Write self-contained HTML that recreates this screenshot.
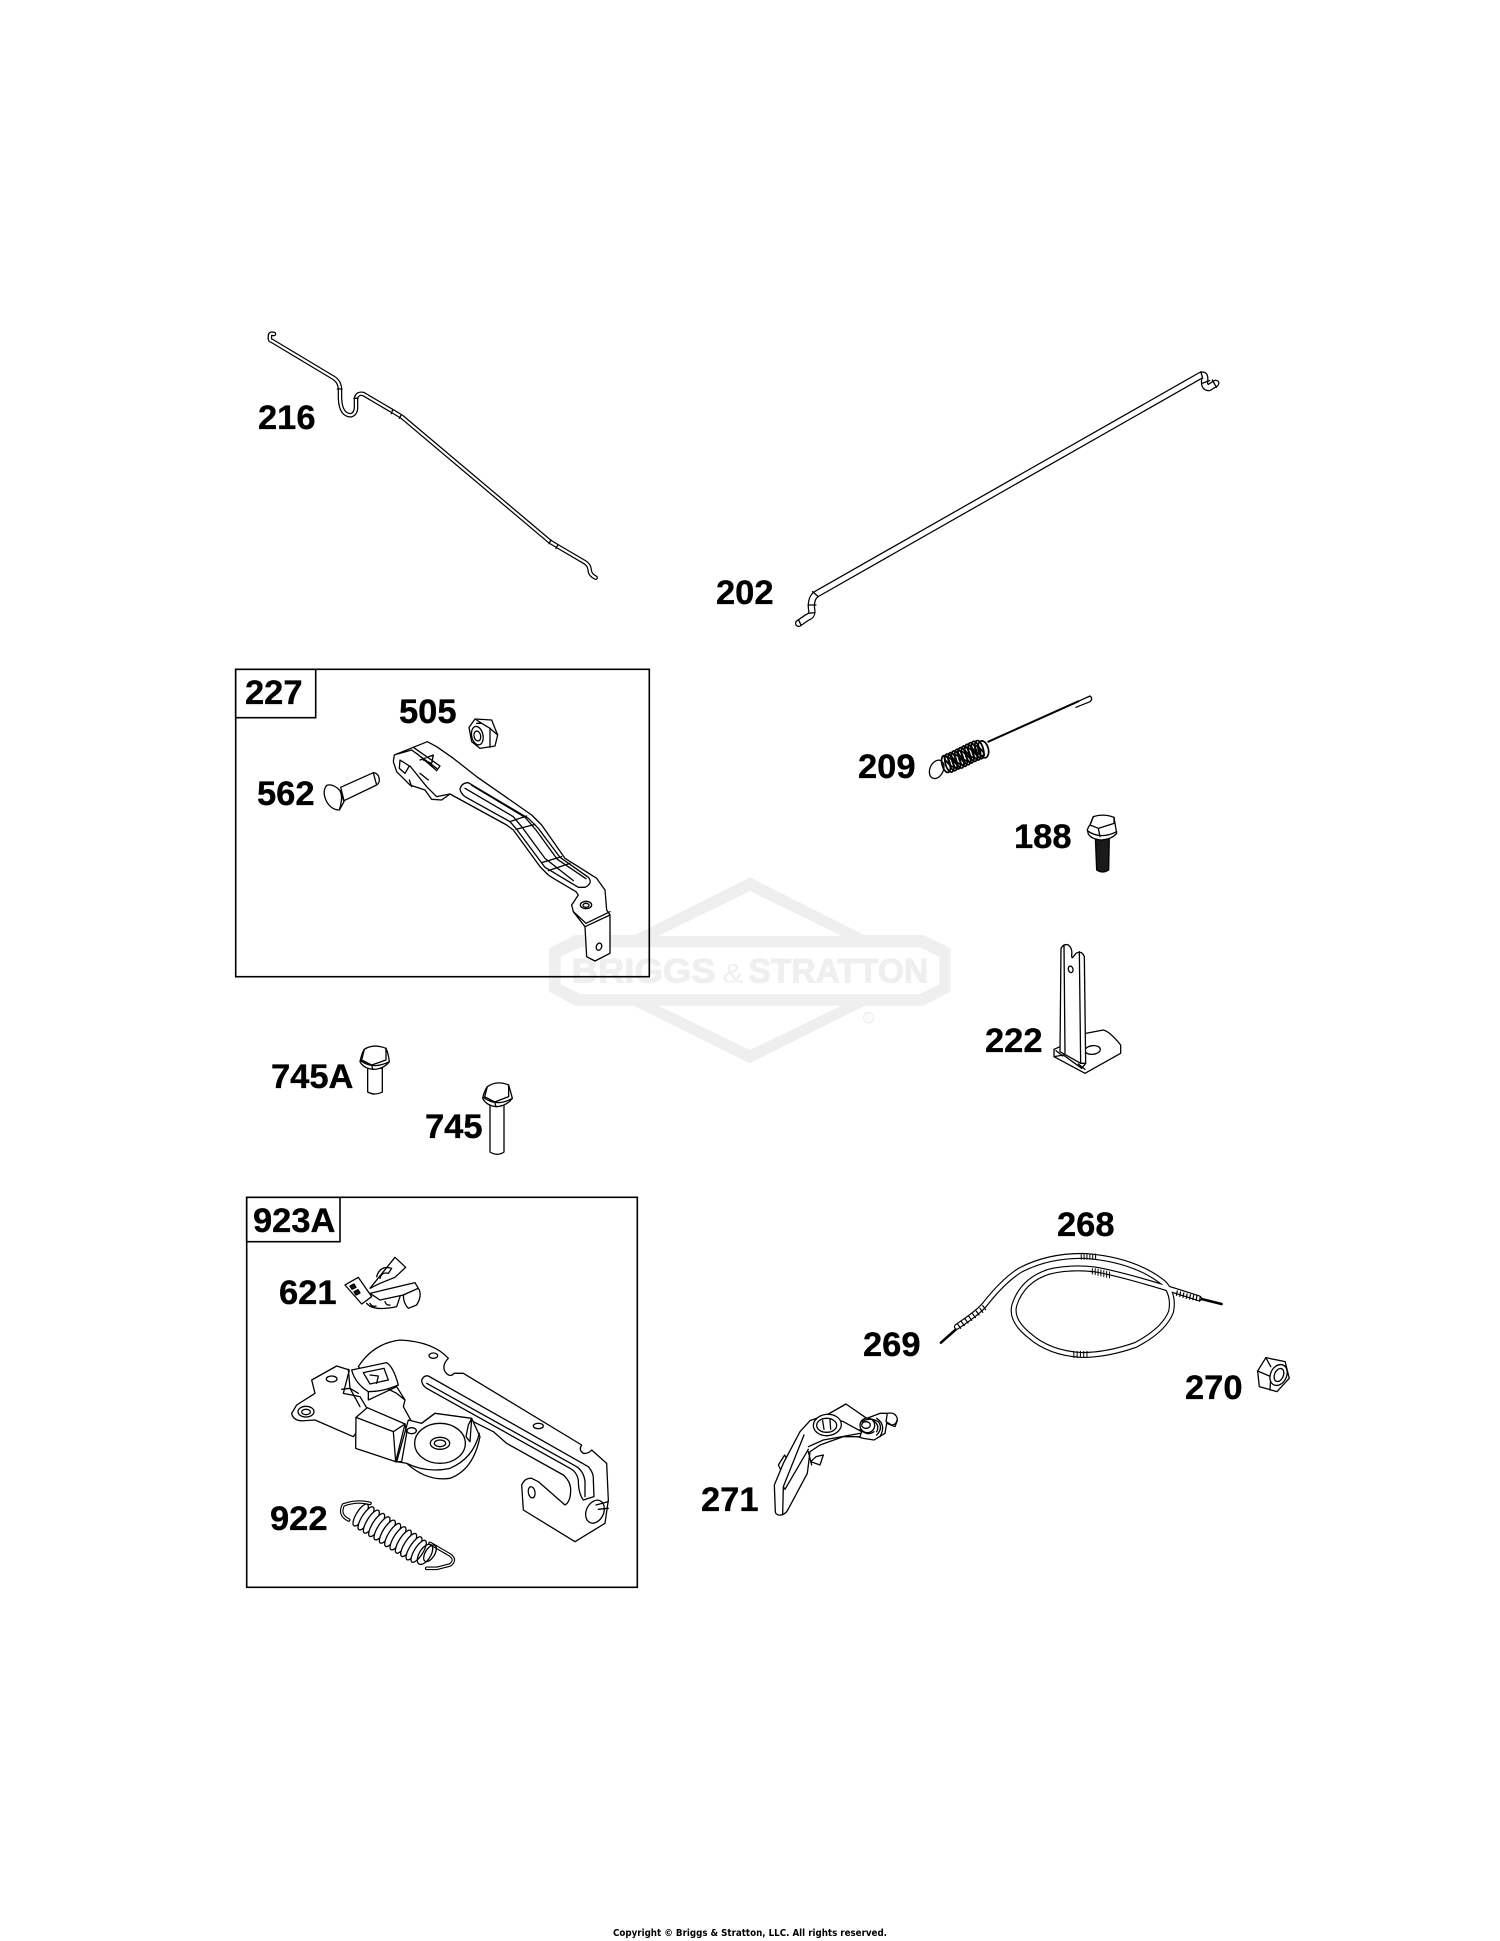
<!DOCTYPE html>
<html><head><meta charset="utf-8"><style>
html,body{margin:0;padding:0;background:#fff}
svg{display:block}
.l{font:bold 34.5px "Liberation Sans",sans-serif;fill:#000;stroke:#000;stroke-width:.35}
.p *{vector-effect:non-scaling-stroke;stroke:#000;stroke-width:1.3;fill:#fff;stroke-linejoin:round;stroke-linecap:round}
.p .n{fill:none}
.p .t1{fill:none;stroke-width:4.6}
.p .t2{fill:none;stroke:#fff;stroke-width:2.1}
.p .t3{fill:none;stroke-width:7.4}
.p .t4{fill:none;stroke:#fff;stroke-width:4.9}
.p .t5{fill:none;stroke-width:6}
.p .t6{fill:none;stroke:#fff;stroke-width:3.7}
.p .t7{fill:none;stroke-width:3.6}
.p .t8{fill:none;stroke:#fff;stroke-width:1.3}
.p .d *{fill:none;stroke-width:1.7}
.p .b{fill:#1a1a1a}
</style></head><body>
<svg width="1500" height="1941" viewBox="0 0 1500 1941" xmlns="http://www.w3.org/2000/svg">
<rect width="1500" height="1941" fill="#fff"/>

<!-- watermark -->
<g transform="translate(530,860) scale(.33333)" fill="#efefef">
<path fill-rule="evenodd" d="M660 52L1003 225H1180L1262 265V395L1180 437H1005L660 610L310 437H135L57 395V265L135 225H315ZM660 93L385 228H935ZM150 262L92 290V372L150 402H1170L1228 372V290L1170 262ZM385 437L660 570L935 437Z"/>
<text x="125" y="368" font-family="Liberation Sans" font-weight="bold" font-size="104" textLength="432" lengthAdjust="spacingAndGlyphs" stroke="#efefef" stroke-width="3">BRIGGS</text>
<text x="578" y="368" font-family="Liberation Sans" font-size="80" textLength="62" lengthAdjust="spacingAndGlyphs">&amp;</text>
<text x="655" y="368" font-family="Liberation Sans" font-weight="bold" font-size="104" textLength="540" lengthAdjust="spacingAndGlyphs" stroke="#efefef" stroke-width="3">STRATTON</text>
<circle cx="1016" cy="473" r="15" fill="none" stroke="#efefef" stroke-width="4"/>
<text x="1016" y="482" font-family="Liberation Sans" font-size="22" text-anchor="middle">R</text>
</g>

<!-- boxes -->
<g fill="none" stroke="#000" stroke-width="1.6">
<rect x="235.7" y="669.3" width="413.6" height="307.4"/>
<rect x="235.7" y="669.3" width="80" height="48.4"/>
<rect x="246.7" y="1197.3" width="390.6" height="390"/>
<rect x="246.7" y="1197.3" width="93.3" height="44.4"/>
</g>

<!-- 216 -->
<g class="p" transform="translate(230,310) scale(.33333)">
<path class="t1" d="M132 72Q118 68 120 80Q118 92 125 92L310 203Q330 215 330 240V265Q332 315 362 316Q380 312 378 285V265Q382 248 400 252L490 305L515 320L960 695L985 710L1065 757Q1078 765 1079 780Q1080 795 1097 803"/>
<path class="t2" d="M132 72Q118 68 120 80Q118 92 125 92L310 203Q330 215 330 240V265Q332 315 362 316Q380 312 378 285V265Q382 248 400 252L490 305L515 320L960 695L985 710L1065 757Q1078 765 1079 780Q1080 795 1097 803"/>
<path class="n" d="M322 237H336M372 265H384M488 299L484 311M514 314L508 325M963 690L957 701M984 704L978 715"/>
</g>

<!-- 202 -->
<g class="p" transform="translate(700,350) scale(.34615,.33333)">
<path class="t3" d="M1490 100L1470 113Q1455 112 1458 90Q1460 70 1445 77L335 733Q320 745 322 775Q327 797 310 802L285 820"/>
<path class="t4" d="M1490 100L1470 113Q1455 112 1458 90Q1460 70 1445 77L335 733Q320 745 322 775Q327 797 310 802L285 820"/>
<path class="n" d="M1447 65L1452 85M1450 100L1472 92M1480 90L1492 112M325 725L342 740M312 765L335 765M312 790L332 788M285 810L292 826"/>
</g>

<!-- 227 group -->
<g class="p" transform="translate(220,640) scale(.33333)">
<path d="M523 345L580 322L622 305L650 320L700 355L770 410L935 525L965 555L1035 655L1130 715L1155 750L1160 810L1170 825L1170 940L1125 963L1100 950L1095 860L1060 815L1055 795L1075 765L1068 755L1000 715L985 705L960 680L880 570L860 555L690 462L665 480L635 478L615 450L570 435L530 395L520 365Z"/>
<path d="M720 447Q725 428 745 428L925 535L955 565L1020 652L1105 712Q1120 730 1095 742H1075L975 682L890 568L870 545L735 470Q722 460 720 447Z"/>
<path class="n" d="M755 436L915 532L948 570L1012 658L1098 716M735 445L880 530L905 560L975 655L1060 722M870 545L920 528M888 568L945 553M965 668L1025 650M985 692L1050 670"/>
<path class="n" d="M533 342L575 330L650 385M540 360L568 378L555 400L538 385ZM570 378L620 440L650 470L690 462M580 322L660 378L650 392L590 340M600 360L640 345L635 370L610 360M568 420L575 440M600 400L625 420"/>
<ellipse cx="1098" cy="795" rx="17" ry="11"/><ellipse cx="1098" cy="796" rx="9" ry="6"/>
<path class="n" d="M1060 815L1098 850L1170 815M1095 860L1170 825"/>
<ellipse cx="1137" cy="920" rx="8" ry="11" transform="rotate(20 1137 920)"/>
<!-- 505 nut -->
<path d="M747 262L765 237L815 240L833 285L825 318L780 325L755 305Z"/>
<path class="n" d="M765 237L785 250L770 250M785 250L810 265L833 285M810 265L810 322"/>
<ellipse cx="772" cy="287" rx="17" ry="28" transform="rotate(-12 772 287)"/>
<ellipse cx="772" cy="288" rx="10" ry="15" transform="rotate(-12 772 288)"/>
<!-- 562 bolt -->
<path d="M362 442L460 398Q477 400 478 420Q478 430 470 435L372 482Z"/>
<path class="n" d="M460 398Q465 418 470 435"/>
<path d="M320 436Q340 430 360 452L372 485L358 510Q335 510 320 485Q305 455 320 436Z"/>
<path class="n" d="M360 452Q370 470 358 510"/>
</g>

<!-- 209 -->
<g class="p" transform="translate(840,680) scale(.33333)">
<path class="n" style="stroke-width:2" d="M445 185L715 64"/>
<path class="n" d="M715 64L750 48Q760 56 750 65L708 82"/>
<ellipse cx="290" cy="268" rx="20" ry="29" transform="rotate(25 290 268)" class="n"/>
<g class="d">
<ellipse cx="318" cy="252" rx="12" ry="26" transform="rotate(-15 318 252)"/>
<ellipse cx="328" cy="249" rx="12" ry="28" transform="rotate(-15 328 249)"/>
<ellipse cx="338" cy="245" rx="12" ry="28" transform="rotate(-15 338 245)"/>
<ellipse cx="348" cy="240" rx="12" ry="28" transform="rotate(-15 348 240)"/>
<ellipse cx="358" cy="236" rx="12" ry="29" transform="rotate(-15 358 236)"/>
<ellipse cx="368" cy="231" rx="12" ry="29" transform="rotate(-15 368 231)"/>
<ellipse cx="378" cy="226" rx="12" ry="29" transform="rotate(-15 378 226)"/>
<ellipse cx="388" cy="221" rx="12" ry="29" transform="rotate(-15 388 221)"/>
<ellipse cx="398" cy="216" rx="12" ry="29" transform="rotate(-15 398 216)"/>
<ellipse cx="408" cy="212" rx="12" ry="29" transform="rotate(-15 408 212)"/>
<ellipse cx="418" cy="209" rx="12" ry="28" transform="rotate(-15 418 209)"/>
<ellipse cx="430" cy="208" rx="15" ry="26" transform="rotate(-15 430 208)"/>
<ellipse cx="333" cy="247" rx="8" ry="25" transform="rotate(-50 333 247)"/>
<ellipse cx="353" cy="238" rx="8" ry="25" transform="rotate(-50 353 238)"/>
<ellipse cx="373" cy="229" rx="8" ry="25" transform="rotate(-50 373 229)"/>
<ellipse cx="393" cy="219" rx="8" ry="25" transform="rotate(-50 393 219)"/>
<ellipse cx="413" cy="210" rx="8" ry="25" transform="rotate(-50 413 210)"/>
</g>
</g>

<!-- 188 -->
<g class="p" transform="translate(840,680) scale(.33333)">
<path class="b" d="M766 470L808 470L806 570Q788 582 770 570Z"/>
<path d="M760 410Q790 400 822 412L830 460Q815 478 785 480Q755 478 745 462L742 450Q745 440 750 435Z"/>
<path class="n" d="M750 435L775 445L822 430M775 445L780 470M760 410L750 435M822 412L822 430M742 452Q780 480 830 455"/>
</g>

<!-- 222 -->
<g class="p" transform="translate(840,680) scale(.33333)">
<path d="M737 1060L790 1050Q810 1055 842 1095V1120L735 1180L642 1130V1108L660 1100Z"/>
<ellipse cx="758" cy="1110" rx="23" ry="13" transform="rotate(-6 758 1110)"/>
<path d="M660 1115L663 805Q672 790 685 795Q698 805 695 825Q695 838 700 830L708 820Q725 810 733 830L737 1150L722 1150Z"/>
<path class="n" d="M672 795L675 1120M718 815L722 1150M643 1130L670 1125L725 1165L737 1150M648 1112L668 1128M715 1152L735 1168"/>
<ellipse cx="692" cy="868" rx="7" ry="10" transform="rotate(-15 692 868)"/>
</g>

<!-- 745A / 745 -->
<g class="p" transform="translate(260,1030) scale(.33333)">
<path d="M323 115H367V186Q345 198 323 186Z"/>
<path d="M313 58Q340 40 378 55Q385 70 388 95Q370 118 340 118Q310 115 300 95Q305 70 313 58Z"/>
<path class="n" d="M313 58L305 90L335 105L378 90L378 55M335 105L338 118M302 92Q340 120 388 95"/>
<path d="M690 220H732V366Q712 380 690 366Z"/>
<path d="M682 170Q710 150 746 165Q752 185 757 205Q740 228 710 230Q680 228 668 205Q672 185 682 170Z"/>
<path class="n" d="M682 170L674 200L704 216L746 200L746 165M704 216L708 230M670 202Q710 232 757 205"/>
</g>

<!-- 923A group -->
<g class="p" transform="translate(230,1180) scale(.33333)">
<!-- long arm plate -->
<path d="M385 560Q430 490 510 480Q610 485 655 535Q635 555 645 575Q660 595 672 580H700L1055 795Q1045 810 1060 820Q1075 822 1085 810L1130 850L1135 960L1125 1030L1035 1085L880 990L875 915Q885 893 905 895L925 905L1005 975Q1022 965 1022 930Q1022 905 1000 885L830 790L790 755L710 715L615 700L575 730Q555 735 545 725L520 680L525 660L500 640L420 600Z"/>
<!-- left plate -->
<path d="M358 570L320 558L245 600L255 640L200 675L185 700Q190 725 225 722L255 720L370 770L420 700L390 650L340 640Z"/>
<ellipse cx="305" cy="597" rx="16" ry="9"/>
<ellipse cx="228" cy="695" rx="24" ry="16"/><ellipse cx="228" cy="696" rx="13" ry="8"/>
<ellipse cx="610" cy="527" rx="13" ry="8"/>
<ellipse cx="925" cy="738" rx="15" ry="8"/>
<ellipse cx="905" cy="937" rx="10" ry="17" transform="rotate(-10 905 937)"/>
<!-- channel -->
<path d="M575 600Q582 585 595 588L1075 860Q1092 880 1090 900L1092 950L1060 960Q1045 940 1045 900Q1040 875 1020 865L590 625Q575 615 575 600Z"/>
<path class="n" d="M590 610L1040 860Q1062 875 1065 905L1065 950"/>
<!-- hook end -->
<ellipse cx="1095" cy="995" rx="26" ry="36" transform="rotate(25 1095 995)"/>
<path class="n" d="M1098 975L1135 965M1105 988L1135 985"/>
<!-- cam -->
<path d="M530 850Q590 905 660 895Q730 870 750 770L725 715L615 700L575 730L535 720L500 845Z"/>
<path class="n" d="M530 850Q590 880 660 865Q730 835 748 760M715 735L725 715L720 785L708 770Z"/>
<ellipse cx="630" cy="790" rx="76" ry="60"/>
<ellipse cx="630" cy="790" rx="29" ry="18"/><ellipse cx="630" cy="790" rx="17" ry="10"/>
<ellipse cx="545" cy="752" rx="14" ry="9"/>
<!-- block -->
<path d="M378 712L412 683L525 732L497 845L377 805Z"/>
<path class="n" d="M378 712L490 755L525 732M490 755L497 845M525 732L530 760L515 845L495 845"/>
<path class="n" d="M335 628L360 625L390 680"/>
<!-- square -->
<path d="M365 570L470 548Q490 560 505 615Q460 635 415 635Q375 610 365 570Z"/>
<path d="M400 578L462 565L475 600L420 612Z"/>
<path class="n" d="M355 568L360 625L385 640M415 635L415 660L500 620L525 660M420 585L445 588L440 610"/>
<!-- 621 -->
<path d="M420 325L495 232L527 262L495 292L450 310Z"/>
<path class="n" d="M440 290Q450 255 485 265L475 280Q455 275 450 295"/>
<path d="M345 315L385 292L425 350L395 372Z"/>
<path class="b" d="M360 318l12 -6l6 10l-12 6zM372 335l12 -6l6 10l-12 6z"/>
<path d="M420 340L555 308L565 325L520 345L450 360Z"/>
<path d="M520 345L565 325Q578 345 560 375L535 385Q520 370 520 345Z"/>
<path class="n" d="M410 370Q430 395 500 380L510 350M420 370q6 12 18 8M465 365q4 12 15 10"/>
<!-- 922 -->
<path class="t7" d="M356 1020Q325 1005 340 975Q380 960 420 970"/>
<path class="t8" d="M356 1020Q325 1005 340 975Q380 960 420 970"/>
<path class="t7" d="M600 1090L660 1125Q680 1140 660 1155L620 1165L590 1165"/>
<path class="t8" d="M600 1090L660 1125Q680 1140 660 1155L620 1165L590 1165"/>
<g>
<ellipse cx="392" cy="1005" rx="13" ry="38" transform="rotate(32 392 1005)"/>
<ellipse cx="408" cy="1015" rx="13" ry="40" transform="rotate(32 408 1015)"/>
<ellipse cx="424" cy="1025" rx="13" ry="40" transform="rotate(32 424 1025)"/>
<ellipse cx="440" cy="1035" rx="13" ry="40" transform="rotate(32 440 1035)"/>
<ellipse cx="456" cy="1045" rx="13" ry="40" transform="rotate(32 456 1045)"/>
<ellipse cx="472" cy="1055" rx="13" ry="40" transform="rotate(32 472 1055)"/>
<ellipse cx="488" cy="1065" rx="13" ry="40" transform="rotate(32 488 1065)"/>
<ellipse cx="504" cy="1075" rx="13" ry="40" transform="rotate(32 504 1075)"/>
<ellipse cx="520" cy="1085" rx="13" ry="40" transform="rotate(32 520 1085)"/>
<ellipse cx="536" cy="1095" rx="13" ry="40" transform="rotate(32 536 1095)"/>
<ellipse cx="552" cy="1105" rx="13" ry="40" transform="rotate(32 552 1105)"/>
<ellipse cx="566" cy="1114" rx="13" ry="38" transform="rotate(32 566 1114)"/>
</g>
<ellipse class="n" cx="585" cy="1123" rx="17" ry="34" transform="rotate(32 585 1123)"/>
<ellipse class="n" cx="600" cy="1120" rx="14" ry="28" transform="rotate(32 600 1120)"/>
</g>

<!-- 268/269 cable -->
<g class="p" transform="translate(680,1180) scale(.41026,.33333)">
<path class="n" style="stroke-width:2.6" d="M636 488L680 440M1265 355L1320 372"/>
<path class="t5" d="M675 440Q730 395 745 370Q790 300 830 270Q900 225 990 228Q1110 240 1180 310Q1205 345 1197 395Q1180 450 1110 495Q1040 525 980 525Q900 520 850 465Q805 420 815 375Q835 300 900 275Q950 260 1010 268Q1090 285 1265 355"/>
<path class="t6" d="M675 440Q730 395 745 370Q790 300 830 270Q900 225 990 228Q1110 240 1180 310Q1205 345 1197 395Q1180 450 1110 495Q1040 525 980 525Q900 520 850 465Q805 420 815 375Q835 300 900 275Q950 260 1010 268Q1090 285 1265 355"/>
<path class="n" style="stroke-width:1" d="M978 222V238M985 222V238M992 222V238M999 222V238M1006 222V238M1013 222V238M1005 266V282M1012 266V284M1019 268V286M1026 270V288M1033 272V290M1040 274V292M1047 276V294M960 514V532M968 514V532M976 514V532M984 514V532M992 514V532"/>
<path class="n" style="stroke-width:1.2" d="M1212 333L1210 346M1220 336L1218 349M1228 339L1226 352M1236 342L1234 355M1244 344L1242 357M1252 346L1250 359M1260 348L1258 361M1268 351L1266 364M677 433L684 445M686 425L693 437M695 417L702 429M704 409L711 421M713 401L720 413M722 393L729 405M731 385L738 397M738 377L745 389"/>
<!-- 270 nut -->
<path d="M1408 573L1428 533L1475 545L1485 595L1455 635L1412 620Z"/>
<path class="n" d="M1428 533L1440 560M1408 573L1440 590L1438 630"/>
<ellipse cx="1459" cy="585" rx="20" ry="32" transform="rotate(15 1459 585)"/>
<ellipse cx="1460" cy="585" rx="11" ry="20" transform="rotate(15 1460 585)"/>
</g>

<!-- 271 -->
<g class="p" transform="translate(780,1390) scale(.33333)">
<path d="M-5 225L14 195L25 215L5 245Z"/>
<path d="M92 215L120 225L130 195L108 200Z"/>
<path d="M140 75L198 42L260 85L300 70L320 70L352 92L345 110L320 100L315 130L282 150L250 145L200 130L180 130Z"/>
<path d="M322 70Q345 65 352 85Q350 105 335 105L318 95Z"/>
<path d="M60 125L90 92L130 78L190 95L245 125L240 140L190 140L120 165L90 185L82 250L26 355Q15 378 -5 375Q-14 372 -14 365L-17 285L10 220Z"/>
<ellipse cx="142" cy="105" rx="42" ry="32" transform="rotate(-5 142 105)"/>
<ellipse cx="140" cy="106" rx="30" ry="21"/>
<path class="n" d="M128 92L132 118M150 90L152 118M72 135L10 290L8 372M85 178L15 298M10 290L15 298M85 170L130 150L240 130M85 185L95 225"/>
<ellipse cx="262" cy="106" rx="22" ry="22"/>
<ellipse cx="258" cy="105" rx="13" ry="10"/>
<path class="n" d="M240 118Q262 140 282 125M245 95Q270 80 295 95Q310 115 290 135M280 92Q300 105 290 125M290 85Q320 105 300 140"/>
</g>

<!-- labels -->
<text class="l" x="258" y="429">216</text>
<text class="l" x="716" y="604">202</text>
<text class="l" x="245" y="704">227</text>
<text class="l" x="399" y="723">505</text>
<text class="l" x="257" y="805">562</text>
<text class="l" x="858" y="778">209</text>
<text class="l" x="1014" y="848">188</text>
<text class="l" x="985" y="1052">222</text>
<text class="l" x="271" y="1088">745A</text>
<text class="l" x="425" y="1138">745</text>
<text class="l" x="253" y="1232">923A</text>
<text class="l" x="279" y="1304">621</text>
<text class="l" x="270" y="1530">922</text>
<text class="l" x="1057" y="1236">268</text>
<text class="l" x="863" y="1356">269</text>
<text class="l" x="1185" y="1399">270</text>
<text class="l" x="701" y="1511">271</text>

<text x="613" y="1936" font-family="DejaVu Sans" font-weight="bold" font-size="9.7" textLength="274" lengthAdjust="spacingAndGlyphs" fill="#000">Copyright © Briggs &amp; Stratton, LLC. All rights reserved.</text>
</svg>
</body></html>
